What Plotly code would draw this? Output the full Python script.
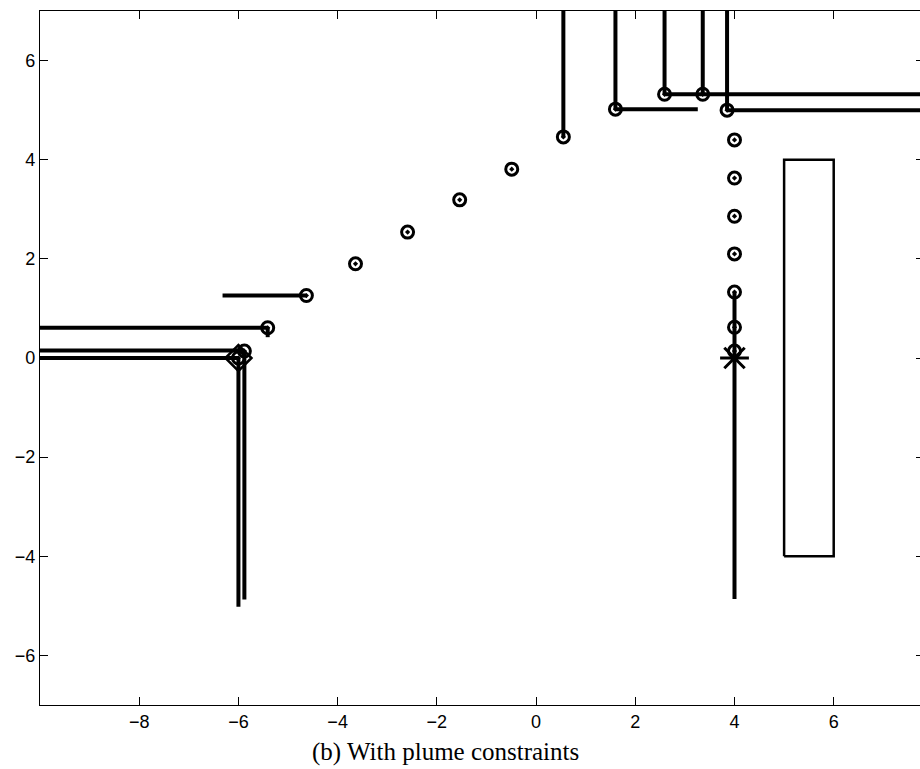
import plotly.graph_objects as go

# ---- data ----
# trajectory waypoints (circle markers)
way_x = [-6.0, -5.88, -5.41, -4.63, -3.64, -2.59, -1.54, -0.49, 0.55, 1.60, 2.59, 3.36, 3.85,
         4.0, 4.0, 4.0, 4.0, 4.0, 4.0, 4.0]
way_y = [0.0, 0.14, 0.61, 1.26, 1.90, 2.54, 3.19, 3.81, 4.46, 5.02, 5.32, 5.32, 5.00,
         4.40, 3.63, 2.86, 2.10, 1.33, 0.62, 0.14]

start_x = [-6.0]
start_y = [0.0]
goal_x = [4.0]
goal_y = [0.0]

# plume constraint segments (x0, y0, x1, y1)
seg_x0 = [-10.5, -10.5, -6.0, -5.88, -10.5, -5.41, -6.32, 0.55, 1.60, 1.60, 2.59, 2.59, 3.36, 3.85, 3.85, 4.0]
seg_y0 = [0.0, 0.15, 0.0, 0.15, 0.61, 0.61, 1.26, 4.46, 5.02, 5.02, 5.32, 5.32, 5.32, 5.00, 5.00, 1.33]
seg_x1 = [-6.0, -5.88, -6.0, -5.88, -5.41, -5.41, -4.63, 0.55, 1.60, 3.26, 2.59, 8.5, 3.36, 3.85, 8.5, 4.0]
seg_y1 = [0.0, 0.15, -5.02, -4.87, 0.61, 0.42, 1.26, 7.5, 7.5, 5.02, 7.5, 5.32, 7.5, 7.5, 5.00, -4.86]

# obstacle rectangle
rect_x = [5, 6, 6, 5, 5]
rect_y = [-4, -4, 4, 4, -4]

x_ticks = [-8, -6, -4, -2, 0, 2, 4, 6]
y_ticks = [-6, -4, -2, 0, 2, 4, 6]
x_range = [-10, 7.82]
y_range = [-7, 7]
caption = "(b) With plume constraints"

# ---- figure ----
fig = go.Figure()

fig.add_trace(go.Scatter(x=rect_x, y=rect_y, mode="lines",
                         line=dict(color="black", width=2.5), showlegend=False))

fig.add_trace(go.Scatter(x=way_x, y=way_y, mode="markers",
                         marker=dict(symbol="circle-open-dot", size=12, color="black",
                                     line=dict(width=3, color="black")),
                         showlegend=False))

sx, sy = [], []
for a, b, c, d in zip(seg_x0, seg_y0, seg_x1, seg_y1):
    sx += [a, c, None]
    sy += [b, d, None]
fig.add_trace(go.Scatter(x=sx, y=sy, mode="lines",
                         line=dict(color="black", width=4), showlegend=False))

fig.add_trace(go.Scatter(x=start_x, y=start_y, mode="markers",
                         marker=dict(symbol="diamond-open", size=20, color="black",
                                     line=dict(width=2.5, color="black")),
                         showlegend=False))
fig.add_trace(go.Scatter(x=goal_x, y=goal_y, mode="markers",
                         marker=dict(symbol="asterisk-open", size=24, color="black",
                                     line=dict(width=3, color="black")),
                         showlegend=False))

axis_common = dict(showgrid=False, zeroline=False, showline=True, linecolor="black",
                   linewidth=1.2, mirror="ticks", ticks="inside", ticklen=8,
                   tickcolor="black", tickwidth=1,
                   tickfont=dict(family="Liberation Sans", size=18, color="black"))

fig.update_xaxes(range=x_range, tickvals=x_ticks, **axis_common)
fig.update_yaxes(range=y_range, tickvals=y_ticks, **axis_common)

fig.add_annotation(text=caption, xref="paper", yref="paper", x=0.459, y=-0.044,
                   xanchor="center", yanchor="top", showarrow=False,
                   font=dict(family="Liberation Serif", size=25, color="black"))

fig.update_layout(width=924, height=769, plot_bgcolor="white", paper_bgcolor="white",
                  margin=dict(l=40, r=0, t=11, b=64))

fig.write_html("out.html", config={"displayModeBar": False},
               post_script="document.body.style.margin='0px';")
